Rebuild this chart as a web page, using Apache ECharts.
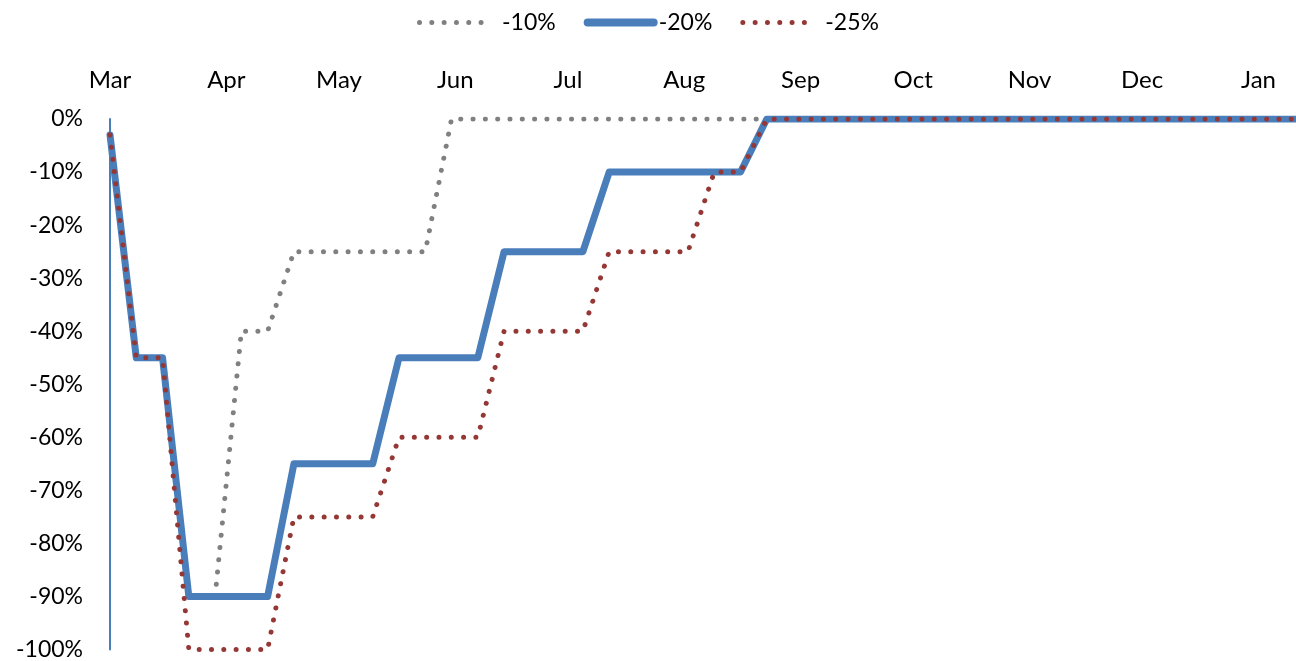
<!DOCTYPE html>
<html>
<head>
<meta charset="utf-8">
<script src="https://cdn.jsdelivr.net/npm/echarts@6/dist/echarts.min.js"></script>
<style>
  html, body { margin: 0; padding: 0; background: #fff; }
  #chart { width: 1296px; height: 661px; }
</style>
</head>
<body>
<div id="chart"></div>
<script>
// weekly observations (percent change)
const weeks = [
  '2020-03-01', '2020-03-08', '2020-03-15', '2020-03-22', '2020-03-29',
  '2020-04-05', '2020-04-12', '2020-04-19', '2020-04-26', '2020-05-03',
  '2020-05-10', '2020-05-17', '2020-05-24', '2020-05-31', '2020-06-07',
  '2020-06-14', '2020-06-21', '2020-06-28', '2020-07-05', '2020-07-12',
  '2020-07-19', '2020-07-26', '2020-08-02', '2020-08-09', '2020-08-16',
  '2020-08-23', '2021-01-11'
];
const minus10 = [-3, -45, -45, -90, -90, -40, -40, -25, -25, -25, -25, -25, -25, 0, 0, 0, 0, 0, 0, 0, 0, 0, 0, 0, 0, 0, 0];
const minus20 = [-3, -45, -45, -90, -90, -90, -90, -65, -65, -65, -65, -45, -45, -45, -45, -25, -25, -25, -25, -10, -10, -10, -10, -10, -10, 0, 0];
const minus25 = [-3, -45, -45, -100, -100, -100, -100, -75, -75, -75, -75, -60, -60, -60, -60, -40, -40, -40, -40, -25, -25, -25, -25, -10, -10, 0, 0];
const seriesNames = ['-10%', '-20%', '-25%'];
const monthNames = ['Jan', 'Feb', 'Mar', 'Apr', 'May', 'Jun', 'Jul', 'Aug', 'Sep', 'Oct', 'Nov', 'Dec'];

// daily category axis from first to last week
const days = [];
for (let d = new Date(Date.UTC(2020, 2, 1)); d <= new Date(Date.UTC(2021, 0, 11)); d.setUTCDate(d.getUTCDate() + 1)) {
  days.push(d.toISOString().slice(0, 10));
}

const font = 'Lato, "Open Sans", sans-serif';
const pair = (vals) => weeks.map((w, i) => [w, vals[i]]);
const dotted = [0.01, 12.3];

const chart = echarts.init(document.getElementById('chart'));
chart.setOption({
  backgroundColor: '#fff',
  animation: false,
  textStyle: { fontFamily: font },
  legend: {
    data: [
      { name: seriesNames[0], itemStyle: { opacity: 0 }, lineStyle: { width: 5, type: dotted, cap: 'round' } },
      { name: seriesNames[1], itemStyle: { opacity: 0 }, lineStyle: { width: 8, cap: 'round' } },
      { name: seriesNames[2], itemStyle: { opacity: 0 }, lineStyle: { width: 5, type: dotted, cap: 'round' } }
    ],
    formatter: (name) => (name === seriesNames[1] ? name : '\u2002' + name),
    top: 6,
    left: 'center',
    itemWidth: 66,
    itemHeight: 14,
    itemGap: 28,
    textStyle: { fontSize: 23, color: '#000', fontFamily: font }
  },
  grid: { left: 110, right: 0, top: 119, bottom: 8, containLabel: false },
  xAxis: {
    type: 'category',
    position: 'top',
    data: days,
    boundaryGap: false,
    axisLine: { show: false },
    axisTick: { show: false },
    splitLine: { show: false },
    axisLabel: {
      interval: (i, v) => v.endsWith('-01'),
      formatter: (v) => monthNames[+v.slice(5, 7) - 1],
      fontSize: 24,
      color: '#000',
      margin: 27,
      fontFamily: font
    }
  },
  yAxis: {
    type: 'value',
    min: -100,
    max: 0,
    interval: 10,
    axisLine: { show: true, lineStyle: { color: '#4a7ebb', width: 2 } },
    axisTick: { show: false },
    splitLine: { show: false },
    axisLabel: { formatter: '{value}%', fontSize: 23, color: '#000', margin: 27, fontFamily: font }
  },
  series: [
    {
      name: seriesNames[0], type: 'line', data: pair(minus10), symbol: 'none',
      lineStyle: { color: '#808080', width: 5, type: dotted, cap: 'round' },
      itemStyle: { color: '#808080' }
    },
    {
      name: seriesNames[1], type: 'line', data: pair(minus20), symbol: 'none',
      lineStyle: { color: '#4a7ebb', width: 7, join: 'round', cap: 'round' },
      itemStyle: { color: '#4a7ebb' }
    },
    {
      name: seriesNames[2], type: 'line', data: pair(minus25), symbol: 'none',
      lineStyle: { color: '#953735', width: 5, type: dotted, cap: 'round' },
      itemStyle: { color: '#953735' }
    }
  ]
});
</script>
</body>
</html>
